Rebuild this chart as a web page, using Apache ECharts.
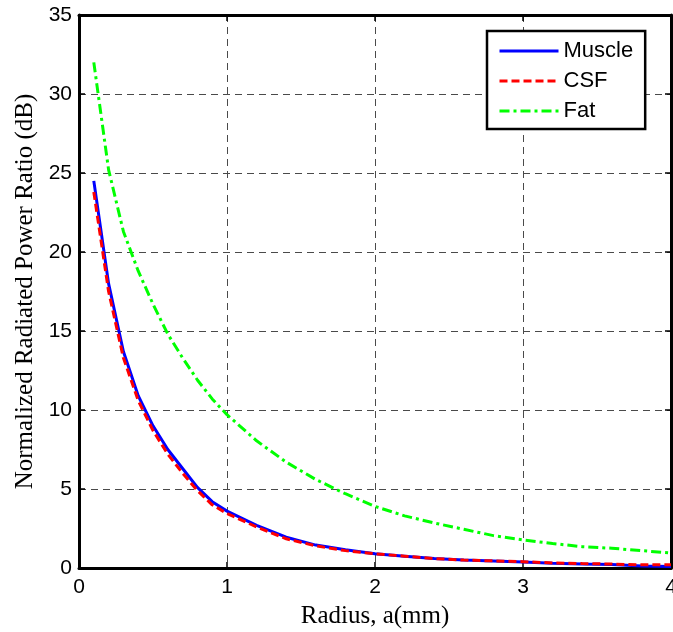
<!DOCTYPE html>
<html>
<head>
<meta charset="utf-8">
<script src="https://cdn.jsdelivr.net/npm/echarts@6/dist/echarts.min.js"></script>
<style>
html,body{margin:0;padding:0;background:#fff;}
#chart{width:673px;height:632px;}
</style>
</head>
<body>
<div id="chart"></div>
<script>
var radius = [0.1,0.2,0.3,0.4,0.5,0.6,0.7,0.8,0.9,1.0,1.2,1.4,1.6,1.8,2.0,2.2,2.4,2.6,2.8,3.0,3.2,3.4,3.6,3.8,4.0];
var muscle = [24.5,18.0,13.7,10.9,9.0,7.5,6.3,5.1,4.2,3.6,2.7,1.95,1.45,1.15,0.9,0.75,0.6,0.5,0.45,0.38,0.3,0.25,0.22,0.12,0.1];
var csf    = [23.8,17.5,13.3,10.6,8.7,7.2,6.0,4.9,4.0,3.45,2.6,1.85,1.4,1.1,0.9,0.75,0.6,0.5,0.45,0.4,0.32,0.28,0.25,0.2,0.2];
var fat    = [32.0,25.2,21.3,18.8,16.7,14.8,13.3,11.9,10.7,9.7,8.05,6.7,5.6,4.7,3.9,3.3,2.85,2.45,2.05,1.78,1.55,1.35,1.25,1.1,0.95];
var xTicks = [0,1,2,3,4];
var yTicks = [0,5,10,15,20,25,30,35];
var seriesNames = ['Muscle','CSF','Fat'];

function pairs(ys){ return radius.map(function(x,i){ return [x, ys[i]]; }); }

var chart = echarts.init(document.getElementById('chart'), null, {renderer:'canvas'});
var tickFont = {fontFamily:'Liberation Sans, Arial, sans-serif', fontSize:21, color:'#000'};
var titleFont = {fontFamily:'Liberation Serif, Times New Roman, serif', fontSize:25, color:'#000'};
var gridLine = {show:true, lineStyle:{color:'#4a4a4a', width:1, type:[7,5]}};
var axisLine = {show:true, onZero:false, lineStyle:{color:'#000', width:3}};
var tick = {show:true, inside:true, length:6, lineStyle:{color:'#000', width:1.5}};

chart.setOption({
  animation:false,
  backgroundColor:'#fff',
  grid:{left:79, right:2, top:15, bottom:64, containLabel:false, outerBoundsMode:'none'},
  legend:{
    data:seriesNames,
    left:487, top:31,
    orient:'vertical',
    padding:[9,12,7,11],
    itemGap:8,
    itemWidth:59, itemHeight:22,
    backgroundColor:'#fff',
    borderColor:'#000', borderWidth:2.5,
    itemStyle:{color:'rgba(0,0,0,0)', borderColor:'rgba(0,0,0,0)', borderWidth:0, opacity:0},
    lineStyle:{width:3},
    textStyle:{fontFamily:'Liberation Sans, Arial, sans-serif', fontSize:22, color:'#000'}
  },
  xAxis:[
    {type:'value', min:0, max:4, interval:1, position:'bottom',
     name:'Radius, a(mm)', nameLocation:'middle', nameGap:36, nameTextStyle:titleFont,
     axisLine:axisLine, axisTick:tick, splitLine:gridLine,
     axisLabel:Object.assign({margin:9, formatter:function(v){return xTicks.indexOf(v)>=0?String(v):'';}}, tickFont)},
    {type:'value', min:0, max:4, interval:1, position:'top',
     axisLine:axisLine, axisTick:tick, splitLine:{show:false}, axisLabel:{show:false}}
  ],
  yAxis:[
    {type:'value', min:0, max:35, interval:5, position:'left',
     name:'Normalized Radiated Power Ratio (dB)', nameLocation:'middle', nameGap:41, nameTextStyle:titleFont,
     axisLine:axisLine, axisTick:tick, splitLine:gridLine,
     axisLabel:Object.assign({margin:7, formatter:function(v){return yTicks.indexOf(v)>=0?String(v):'';}}, tickFont)},
    {type:'value', min:0, max:35, interval:5, position:'right',
     axisLine:axisLine, axisTick:tick, splitLine:{show:false}, axisLabel:{show:false}}
  ],
  series:[
    {name:'Muscle', type:'line', data:pairs(muscle), symbol:'none', smooth:false, z:3,
     lineStyle:{color:'#0000ff', width:3, type:'solid'}, itemStyle:{color:'#0000ff'}},
    {name:'CSF', type:'line', data:pairs(csf), symbol:'none', smooth:false, z:4,
     lineStyle:{color:'#ff0000', width:3, type:[8,4]}, itemStyle:{color:'#ff0000'}},
    {name:'Fat', type:'line', data:pairs(fat), symbol:'none', smooth:false, z:2,
     lineStyle:{color:'#00ff00', width:3, type:[10,4,3,4]}, itemStyle:{color:'#00ff00'}}
  ]
});
</script>
</body>
</html>
